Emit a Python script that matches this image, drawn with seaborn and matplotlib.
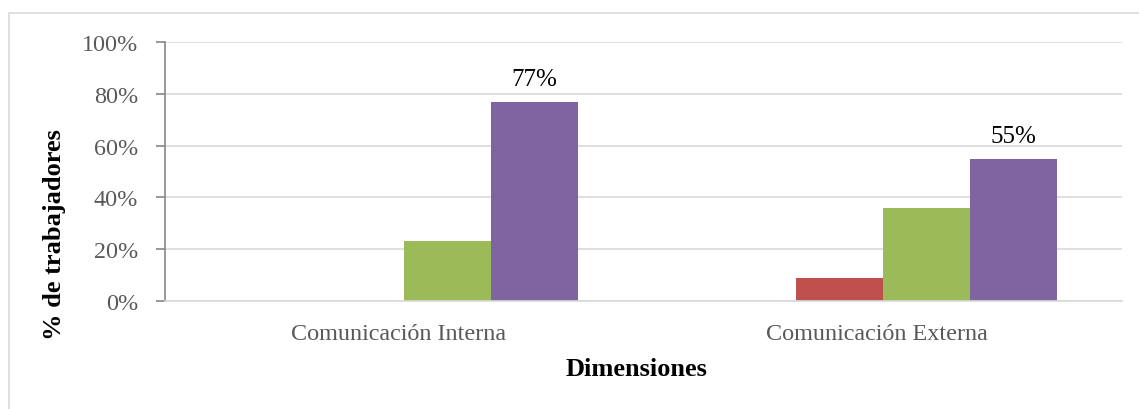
import matplotlib
matplotlib.use("Agg")
import matplotlib.pyplot as plt
import matplotlib.ticker as mticker
import matplotlib.transforms as mtransforms
from matplotlib.patches import Rectangle
import seaborn as sns
import pandas as pd

# Survey results per dimension (percentage of workers per rating level)
dimensiones = ["Comunicación Interna", "Comunicación Externa"]
niveles = ["Deficiente", "Regular", "Bueno", "Excelente"]
deficiente = [0, 0]
regular = [0, 9]
bueno = [23, 36]
excelente = [77, 55]
y_ticks = [0, 20, 40, 60, 80, 100]

colores = ["#4F81BD", "#C0504D", "#9BBB59", "#8064A2"]

rows = []
for serie, valores in zip(niveles, [deficiente, regular, bueno, excelente]):
    for dim, v in zip(dimensiones, valores):
        rows.append({"Dimensión": dim, "Nivel": serie, "Porcentaje": v})
df = pd.DataFrame(rows)

sns.set_theme(style="white")
plt.rcParams["font.family"] = ["Liberation Serif", "DejaVu Serif"]

W, H = 1139, 410
fig = plt.figure(figsize=(W / 100, H / 100), dpi=100)
fig.patch.set_facecolor("white")

# Outer chart frame
fig.patches.append(Rectangle((9 / W, -0.2), 2.0, (H - 14) / H + 0.2,
                             transform=fig.transFigure, fill=False,
                             edgecolor="#D9D9D9", linewidth=1.2))

ax = fig.add_axes([165 / W, (H - 302) / H, 957 / W, 259 / H])

sns.barplot(data=df, x="Dimensión", y="Porcentaje", hue="Nivel",
            hue_order=niveles, order=dimensiones, palette=colores,
            width=348 / 478.5, gap=0, saturation=1, linewidth=0,
            legend=False, ax=ax)

ax.set_ylim(0, 100)
ax.set_xlim(-0.5, 1.5)
ax.yaxis.set_major_locator(mticker.FixedLocator(y_ticks))
ax.yaxis.set_major_formatter(mticker.FuncFormatter(lambda v, p: f"{v:.0f}%"))
ax.grid(axis="y", color="#D9D9D9", linewidth=1.2)
ax.grid(axis="x", visible=False)
ax.set_axisbelow(True)

for side in ["top", "right"]:
    ax.spines[side].set_visible(False)
ax.spines["left"].set_color("#868686")
ax.spines["left"].set_linewidth(1.2)
ax.spines["bottom"].set_color("#D9D9D9")
ax.spines["bottom"].set_linewidth(1.2)

ax.tick_params(axis="y", direction="out", length=6.5, width=1.2,
               color="#868686", pad=13, labelsize=17.4, labelcolor="#595959",
               left=True)
ax.tick_params(axis="x", length=0, pad=15.5, labelsize=17.4, labelcolor="#595959")

# Category labels sit slightly left of the group centres
shift = mtransforms.ScaledTranslation(-6 / 100, 0, fig.dpi_scale_trans)
for lbl in ax.get_xticklabels():
    lbl.set_transform(lbl.get_transform() + shift)

# Value labels on the top rating bars
cont = ax.containers[niveles.index("Excelente")]
ax.bar_label(cont, labels=[f"{v:.0f}%" for v in excelente], padding=8,
             fontsize=18, color="black")

ax.set_xlabel("Dimensiones", fontsize=19, fontweight="bold", color="black")
ax.set_ylabel("% de trabajadores", fontsize=19, fontweight="bold", color="black")
ax.xaxis.label.set_va("center")
ax.yaxis.label.set_va("center")
ax.xaxis.set_label_coords((637 - 165) / 957, (302 - 370) / 259)
ax.yaxis.set_label_coords((54 - 165) / 957, (302 - 235) / 259)

fig.savefig("out.png", dpi=100, facecolor="white")
